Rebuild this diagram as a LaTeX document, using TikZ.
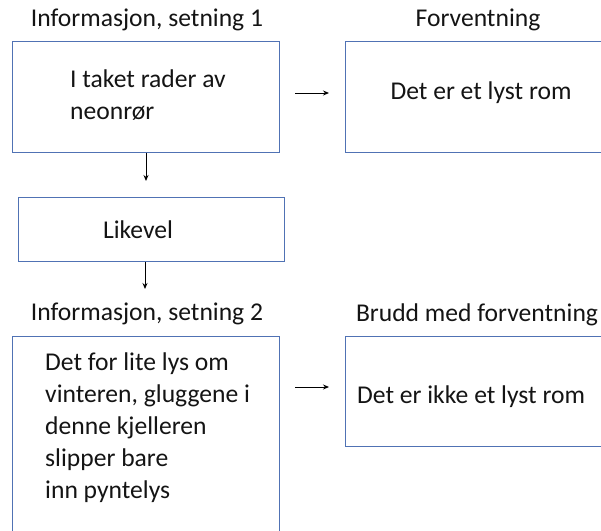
\documentclass[tikz,border=0pt]{standalone}
\usepackage{fontspec}
\setmainfont{Carlito}
\usetikzlibrary{arrows.meta}
\definecolor{boxblue}{RGB}{80,114,180}
\definecolor{txtc}{RGB}{20,20,20}
\begin{document}
\begin{tikzpicture}[x=1pt,y=-1pt,
  box/.style={draw=boxblue, line width=0.85pt, rectangle, anchor=north west, inner sep=0pt},
  txt/.style={text=txtc, font=\fontsize{25.6}{32}\selectfont, inner sep=0pt},
  arr/.style={draw=black, line width=0.9pt, -{Stealth[length=6pt,width=5pt]}}]
\useasboundingbox (0,0) rectangle (601,530);
\clip (0,0) rectangle (601,530);
% titles
\node[txt] (h1) at (147,20) {Informasjon, setning 1};
\node[txt] (h2) at (478,20) {Forventning};
\node[txt] (h3) at (147,314) {Informasjon, setning 2};
\node[txt] (h4) at (477,315) {Brudd med forventning};
% boxes
\node[box, minimum width=267pt, minimum height=111pt] (b1) at (12,41) {};
\node[box, minimum width=272pt, minimum height=111pt] (b2) at (345,41) {};
\node[box, minimum width=266pt, minimum height=64pt] (b3) at (18,197) {};
\node[box, minimum width=267pt, minimum height=230pt] (b4) at (12,336) {};
\node[box, minimum width=272pt, minimum height=110pt] (b5) at (345,336) {};
% texts
\node[txt, align=left, anchor=west] (t1) at (70,95) {I taket rader av\\neonrør};
\node[txt] (t2) at (481,93) {Det er et lyst rom};
\node[txt] (t3) at (138,230) {Likevel};
\node[txt, align=left, anchor=west] (t4) at (45,428) {Det for lite lys om\\vinteren, gluggene i\\denne kjelleren\\slipper bare\\inn pyntelys};
\node[txt, anchor=west] (t5) at (357,397) {Det er ikke et lyst rom};
% connectors
\coordinate (a1s) at (295,93);
\coordinate (a1e) at (329,93);
\coordinate (a2s) at (295,387);
\coordinate (a2e) at (329,387);
\coordinate (v1e) at (146,181);
\coordinate (v2e) at (145,289);
\draw[arr] (a1s) -- (a1e);
\draw[arr] (a2s) -- (a2e);
\draw[arr] (b1.south -| v1e) -- (v1e);
\draw[arr] (b3.south -| v2e) -- (v2e);
\end{tikzpicture}
\end{document}
